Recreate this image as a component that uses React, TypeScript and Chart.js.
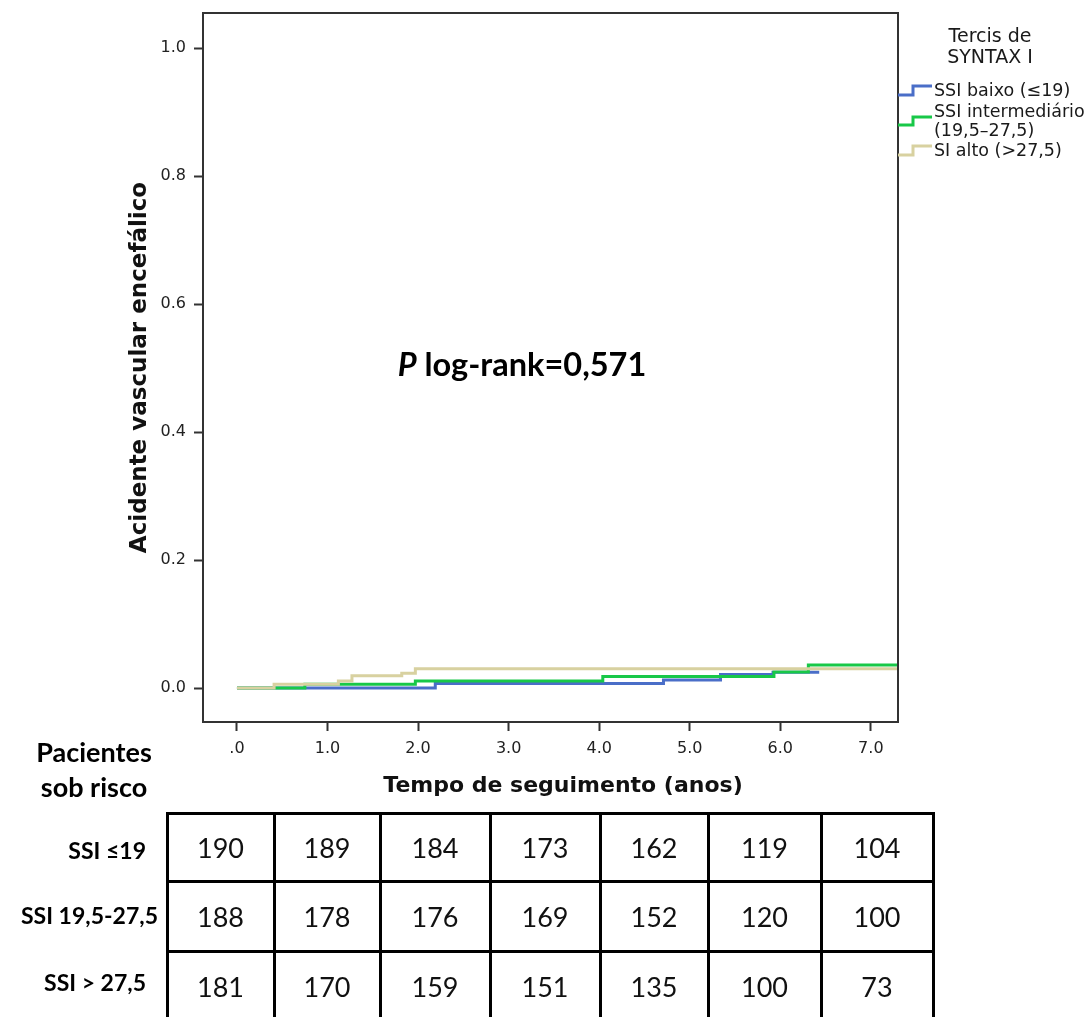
import { useEffect, useRef } from "react";
import { Chart, registerables } from "chart.js";

Chart.register(...registerables);

// Axis ticks
const yearTicks = [0, 1, 2, 3, 4, 5, 6, 7];
const riskTicks = [0, 0.2, 0.4, 0.6, 0.8, 1.0];

// Cumulative incidence (Kaplan-Meier step curves) per SYNTAX tertile
const lowTimes = [0, 2.19, 4.71, 5.34, 5.92, 6.43];
const lowValues = [0, 0.007, 0.0125, 0.021, 0.0245, 0.0245];
const midTimes = [0, 0.75, 1.97, 4.04, 5.93, 6.31, 7.3];
const midValues = [0, 0.006, 0.011, 0.018, 0.025, 0.036, 0.036];
const highTimes = [0, 0.41, 1.12, 1.27, 1.82, 1.97, 7.3];
const highValues = [0, 0.006, 0.011, 0.019, 0.023, 0.03, 0.03];

const groupColors = ["rgb(74,110,200)", "rgb(24,200,72)", "rgb(216,209,160)"];
const legendTitle = ["Tercis de", "SYNTAX I"];
const legendLabels = [["SSI baixo (≤19)"], ["SSI intermediário", "(19,5–27,5)"], ["SI alto (>27,5)"]];

// Patients at risk table
const riskRowLabels = ["SSI ≤19", "SSI 19,5-27,5", "SSI > 27,5"];
const riskLow = [190, 189, 184, 173, 162, 119, 104];
const riskMid = [188, 178, 176, 169, 152, 120, 100];
const riskHigh = [181, 170, 159, 151, 135, 100, 73];

const tableRows = [riskLow, riskMid, riskHigh];
const colEdges = [167, 274, 380, 490, 600, 708, 821, 933];
const rowEdges = [813, 881, 951, 1021];
const rowLabelPos = [
  { right: 146, y: 850 },
  { right: 158, y: 915 },
  { right: 146, y: 982 },
];

const toPoints = (ts: number[], vs: number[]) => ts.map((t, i) => ({ x: t, y: vs[i] }));

const decorations = {
  id: "decorations",
  afterDraw(chart: any) {
    const { ctx, chartArea } = chart;
    const { left, top, right, bottom } = chartArea;
    ctx.save();
    // plot frame
    ctx.strokeStyle = "#333";
    ctx.lineWidth = 2;
    ctx.strokeRect(left, top, right - left, bottom - top);

    // x axis title
    ctx.fillStyle = "#111";
    ctx.textAlign = "center";
    ctx.textBaseline = "middle";
    ctx.font = "bold 22px 'DejaVu Sans'";
    ctx.fillText("Tempo de seguimento (anos)", 563, 786);

    // legend title
    ctx.font = "19px 'DejaVu Sans'";
    ctx.fillStyle = "#1a1a1a";
    ctx.fillText(legendTitle[0], 990, 37);
    ctx.fillText(legendTitle[1], 990, 58);

    // legend entries with step glyphs
    const glyphs = [
      { low: 95, high: 86, text: [91] },
      { low: 125, high: 117, text: [112, 131] },
      { low: 155, high: 146, text: [151] },
    ];
    ctx.textAlign = "left";
    ctx.font = "17.5px 'DejaVu Sans'";
    glyphs.forEach((g, i) => {
      ctx.strokeStyle = groupColors[i];
      ctx.lineWidth = 3;
      ctx.beginPath();
      ctx.moveTo(right, g.low);
      ctx.lineTo(913, g.low);
      ctx.lineTo(913, g.high);
      ctx.lineTo(932, g.high);
      ctx.stroke();
      ctx.fillStyle = "#1a1a1a";
      legendLabels[i].forEach((line, j) => ctx.fillText(line, 934, g.text[j]));
    });

    // log-rank annotation
    const size = 32.5;
    ctx.font = `italic bold ${size}px Lato`;
    const pw = ctx.measureText("P").width;
    ctx.font = `bold ${size}px Lato`;
    const rest = " log-rank=0,571";
    const rw = ctx.measureText(rest).width;
    const x0 = 522 - (pw + rw) / 2;
    ctx.fillStyle = "#000";
    ctx.font = `italic bold ${size}px Lato`;
    ctx.fillText("P", x0, 366);
    ctx.font = `bold ${size}px Lato`;
    ctx.fillText(rest, x0 + pw, 366);
    ctx.restore();
  },
};

export default function App() {
  const canvasRef = useRef<HTMLCanvasElement>(null);

  useEffect(() => {
    const canvas = canvasRef.current;
    if (!canvas) return;
    const tickFont = { family: "'DejaVu Sans'", size: 16 };
    const chart = new Chart(canvas, {
      type: "line",
      data: {
        datasets: [
          {
            label: "SSI baixo (≤19)",
            data: toPoints(lowTimes, lowValues),
            borderColor: groupColors[0],
            order: 3,
          },
          {
            label: "SSI intermediário (19,5–27,5)",
            data: toPoints(midTimes, midValues),
            borderColor: groupColors[1],
            order: 2,
          },
          {
            label: "SI alto (>27,5)",
            data: toPoints(highTimes, highValues),
            borderColor: groupColors[2],
            order: 1,
          },
        ].map((d) => ({
          ...d,
          stepped: "before" as const,
          borderWidth: 3,
          pointRadius: 0,
          fill: false,
          tension: 0,
        })),
      },
      options: {
        animation: false,
        responsive: false,
        devicePixelRatio: 1,
        layout: { padding: { left: 0, top: 13, right: 1088 - 898, bottom: 0 } },
        plugins: { legend: { display: false }, tooltip: { enabled: false } },
        scales: {
          x: {
            type: "linear",
            min: -0.375,
            max: 7.3,
            afterBuildTicks: (s: any) => {
              s.ticks = yearTicks.map((v) => ({ value: v }));
            },
            afterFit: (s: any) => {
              s.height = 78;
              s.paddingLeft = 0;
              s.paddingRight = 0;
            },
            ticks: {
              callback: (v: any) => (Number(v) === 0 ? ".0" : Number(v).toFixed(1)),
              font: tickFont,
              color: "#222",
              padding: 8,
              maxRotation: 0,
              autoSkip: false,
            },
            grid: { display: true, drawOnChartArea: false, tickLength: 9, tickColor: "#333", tickWidth: 2 },
            border: { display: false },
          },
          y: {
            type: "linear",
            min: -0.0531,
            max: 1.0547,
            afterBuildTicks: (s: any) => {
              s.ticks = riskTicks.map((v) => ({ value: v }));
            },
            afterFit: (s: any) => {
              s.width = 203;
              s.paddingTop = 0;
              s.paddingBottom = 0;
            },
            ticks: {
              callback: (v: any) => Number(v).toFixed(1),
              font: tickFont,
              color: "#222",
              padding: 8,
              autoSkip: false,
            },
            grid: { display: true, drawOnChartArea: false, tickLength: 9, tickColor: "#333", tickWidth: 2 },
            border: { display: false },
            title: {
              display: true,
              text: "Acidente vascular encefálico",
              font: { family: "'DejaVu Sans'", size: 23, weight: "bold" },
              color: "#111",
              padding: { top: 126, bottom: 0 },
            },
          },
        },
      },
      plugins: [decorations],
    });
    return () => chart.destroy();
  }, []);

  const labelFont = "Lato, sans-serif";

  return (
    <div
      style={{
        position: "absolute",
        left: 0,
        top: 0,
        width: 1088,
        height: 1017,
        overflow: "hidden",
        background: "#fff",
      }}
    >
      <canvas ref={canvasRef} width={1088} height={800} style={{ position: "absolute", left: 0, top: 0 }} />

      {/* at-risk header */}
      {["Pacientes", "sob risco"].map((t, i) => (
        <div
          key={t}
          style={{
            position: "absolute",
            left: 14,
            width: 160,
            top: 752 + i * 35 - 17,
            height: 34,
            lineHeight: "34px",
            textAlign: "center",
            fontFamily: labelFont,
            fontWeight: 700,
            fontSize: 27,
            color: "#000",
          }}
        >
          {t}
        </div>
      ))}

      {/* row labels */}
      {riskRowLabels.map((t, i) => (
        <div
          key={t}
          style={{
            position: "absolute",
            left: 0,
            width: rowLabelPos[i].right,
            top: rowLabelPos[i].y - 16,
            height: 32,
            lineHeight: "32px",
            textAlign: "right",
            fontFamily: labelFont,
            fontWeight: 700,
            fontSize: 23,
            color: "#000",
          }}
        >
          {t}
        </div>
      ))}

      {/* table grid lines */}
      {colEdges.map((x, i) => (
        <div
          key={"v" + i}
          style={{
            position: "absolute",
            left: x - 1.5,
            top: rowEdges[0] - 1.5,
            width: 3,
            height: rowEdges[3] - rowEdges[0] + 3,
            background: "#000",
          }}
        />
      ))}
      {rowEdges.map((y, i) => (
        <div
          key={"h" + i}
          style={{
            position: "absolute",
            left: colEdges[0] - 1.5,
            top: y - 1.5,
            width: colEdges[7] - colEdges[0] + 3,
            height: 3,
            background: "#000",
          }}
        />
      ))}

      {/* table values */}
      {tableRows.map((row, r) =>
        row.map((v, c) => (
          <div
            key={r + "-" + c}
            style={{
              position: "absolute",
              left: colEdges[c],
              width: colEdges[c + 1] - colEdges[c],
              top: rowEdges[r],
              height: rowEdges[r + 1] - rowEdges[r],
              display: "flex",
              alignItems: "center",
              justifyContent: "center",
              fontFamily: labelFont,
              fontSize: 27,
              color: "#111",
            }}
          >
            {v}
          </div>
        ))
      )}
    </div>
  );
}
